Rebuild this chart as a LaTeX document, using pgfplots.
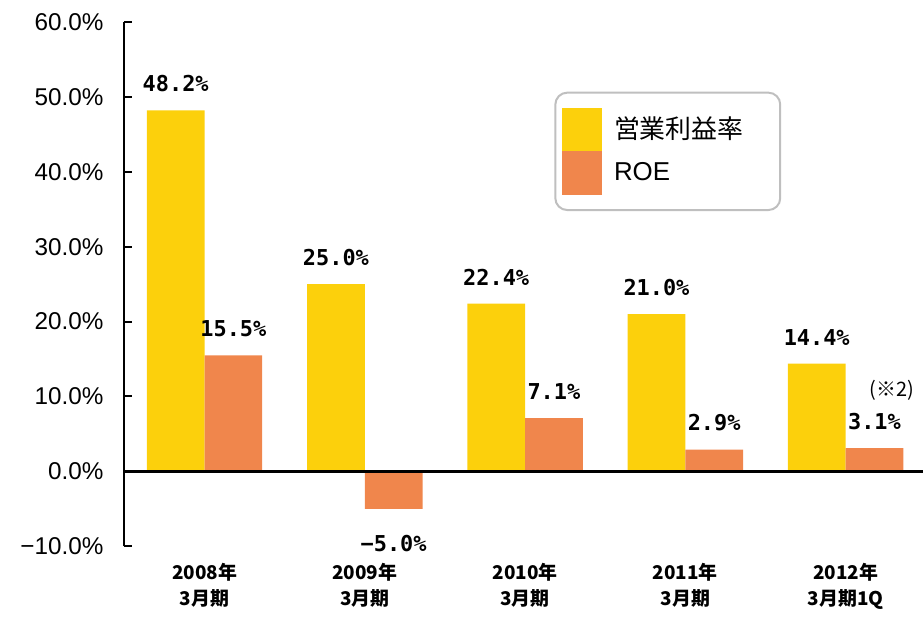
\documentclass[border=0pt]{standalone}
\usepackage{fontspec}
\setmainfont{Liberation Sans}
\newfontfamily\cjk{Noto Sans CJK JP}
\newfontfamily\lblfont{DejaVu Sans Mono}
\usepackage{pgfplots}
\pgfplotsset{compat=1.18}
\definecolor{barY}{HTML}{FCD00C}
\definecolor{barO}{HTML}{F0864C}

\begin{document}
\begin{tikzpicture}
\begin{axis}[
    scale only axis,
    width=401pt, height=263.5pt,
    xmin=-0.5, xmax=4.48,
    ymin=-10, ymax=60,
    ybar=0pt, bar width=29pt,
    axis y line=left, axis x line=bottom,
    x axis line style={draw=none},
    y axis line style={line width=1pt, -},
    xtick={0,...,4},
    xticklabels={{2008年\\3月期},{2009年\\3月期},{2010年\\3月期},{2011年\\3月期},{2012年\\3月期1Q}},
    x tick label style={font=\cjk\bfseries\fontsize{9.5}{13}\selectfont, align=center, yshift=-5pt},
    major x tick style={draw=none},
    ytick={-10,0,10,20,30,40,50,60},
    yticklabels={−10.0\%,0.0\%,10.0\%,20.0\%,30.0\%,40.0\%,50.0\%,60.0\%},
    y tick label style={font=\fontsize{12.2}{14}\selectfont, xshift=-7pt},
    tick align=inside, major tick length=4pt,
    ytick style={line width=1pt, black},
    every node near coord/.append style={font=\lblfont\bfseries\fontsize{11}{13}\selectfont, inner ysep=9pt, black},
    legend style={at={(0.5387,0.867)}, anchor=north west, draw=black!25, line width=1pt,
        rounded corners=6pt, inner xsep=3.5pt, inner ysep=7.5pt, row sep=0pt,
        nodes={inner sep=0pt}, font=\fontsize{13}{15}\selectfont,
        /tikz/every odd column/.append style={column sep=6pt}},
    legend cell align=left,
    clip=false,
]
\addplot[fill=barY, draw=none,
    nodes near coords={\pgfmathprintnumber[fixed,fixed zerofill,precision=1,assume math mode=true]{\pgfplotspointmeta}\%},
    legend image code/.code={\fill[barY, sharp corners] (0pt,-11pt) rectangle (20pt,11pt);}]
    coordinates {(0,48.2) (1,25.0) (2,22.4) (3,21.0) (4,14.4)};
\addlegendentry{\cjk 営業利益率\rule{15pt}{0pt}}
\addplot[fill=barO, draw=none,
    point meta=explicit symbolic, nodes near coords,
    visualization depends on={rawy \as \myy},
    every node near coord/.append style={yshift={(\myy<0)*(-31pt)}},
    legend image code/.code={\fill[barO, sharp corners] (0pt,-11pt) rectangle (20pt,11pt);}]
    coordinates {(0,15.5) [15.5\%] (1,-5.0) [−5.0\%] (2,7.1) [7.1\%] (3,2.9) [2.9\%] (4,3.1) [3.1\%]};
\addlegendentry{ROE}

% zero line
\draw[line width=1.5pt, black] (axis cs:-0.5,0) -- (axis cs:4.48,0);
\node[font=\cjk\fontsize{10}{12}\selectfont] at (axis cs:4.29,10.8) {(※2)};
\coordinate (bl) at (rel axis cs:0,0);
\coordinate (tr) at (rel axis cs:1,1);
\end{axis}
\path ([xshift=-62.5pt,yshift=-29.5pt]bl) rectangle ([yshift=11pt]tr);
\end{tikzpicture}
\end{document}
